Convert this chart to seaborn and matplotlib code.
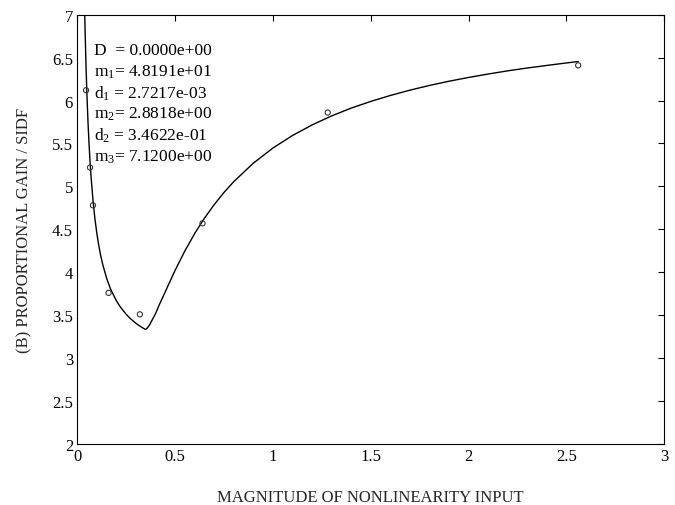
import matplotlib
matplotlib.use("Agg")
import matplotlib.pyplot as plt
import seaborn as sns
import pandas as pd

# Measured points (amplitude, gain)
meas_x = [0.045, 0.065, 0.08, 0.16, 0.32, 0.64, 1.28, 2.56]
meas_y = [6.12, 5.22, 4.78, 3.76, 3.51, 4.57, 5.86, 6.41]

# Fitted curve
curve_x = [0.030, 0.033, 0.036, 0.040, 0.045, 0.050, 0.055, 0.060, 0.065, 0.070,
           0.080, 0.090, 0.100, 0.110, 0.120, 0.130, 0.150, 0.170, 0.200, 0.220,
           0.250, 0.270, 0.300, 0.320, 0.346, 0.350, 0.355, 0.360, 0.370, 0.380,
           0.400, 0.420, 0.450, 0.470, 0.500, 0.550, 0.600, 0.650, 0.700, 0.750,
           0.800, 0.900, 1.000, 1.100, 1.200, 1.300, 1.400, 1.500, 1.600, 1.700,
           1.800, 1.900, 2.000, 2.100, 2.200, 2.300, 2.400, 2.500, 2.560]
curve_y = [8.115, 7.640, 7.243, 6.807, 6.371, 6.022, 5.737, 5.499, 5.297, 5.125,
           4.844, 4.626, 4.452, 4.309, 4.190, 4.090, 3.929, 3.805, 3.667, 3.596,
           3.510, 3.463, 3.405, 3.373, 3.336, 3.336, 3.344, 3.357, 3.389, 3.433,
           3.518, 3.626, 3.774, 3.874, 4.023, 4.249, 4.451, 4.630, 4.788, 4.930,
           5.056, 5.271, 5.447, 5.593, 5.716, 5.821, 5.912, 5.990, 6.059, 6.121,
           6.176, 6.225, 6.269, 6.309, 6.346, 6.379, 6.409, 6.438, 6.454]

param_lines = [r"D  = 0.0000e+00", r"m$_1$= 4.8191e+01", r"d$_1$ = 2.7217e-03",
               r"m$_2$= 2.8818e+00", r"d$_2$ = 3.4622e-01", r"m$_3$= 7.1200e+00"]

x_ticks = [0, 0.5, 1, 1.5, 2, 2.5, 3]
y_ticks = [2, 2.5, 3, 3.5, 4, 4.5, 5, 5.5, 6, 6.5, 7]
x_ticklabels = ["0", "0.5", "1", "1.5", "2", "2.5", "3"]
y_ticklabels = ["2", "2.5", "3", "3.5", "4", "4.5", "5", "5.5", "6", "6.5", "7"]

sns.set_theme(style="white")
plt.rcParams["font.family"] = ["Liberation Serif", "DejaVu Serif"]
plt.rcParams["mathtext.fontset"] = "custom"
plt.rcParams["mathtext.rm"] = "Liberation Serif"
plt.rcParams["mathtext.it"] = "Liberation Serif"

fig = plt.figure(figsize=(6.75, 5.06), dpi=100)
ax = fig.add_axes([0.1145, 0.1206, 0.8696, 0.8484])

curve_df = pd.DataFrame({"x": curve_x, "y": curve_y})
meas_df = pd.DataFrame({"x": meas_x, "y": meas_y})

sns.lineplot(data=curve_df, x="x", y="y", ax=ax, color="black", linewidth=1.0, sort=False)
sns.scatterplot(data=meas_df, x="x", y="y", ax=ax, marker="o", s=14,
                facecolor="none", edgecolor="#333333", linewidth=0.8, zorder=3)

ax.set_xlim(0, 3)
ax.set_ylim(2, 7)
ax.set_xticks(x_ticks)
ax.set_xticklabels(x_ticklabels)
ax.set_yticks(y_ticks)
ax.set_yticklabels(y_ticklabels)
ax.tick_params(direction="in", length=4.5, width=0.8, top=True, right=True,
               labelsize=12, colors="black", pad=3)
for sp in ax.spines.values():
    sp.set_color("black")
    sp.set_linewidth(0.8)

ax.set_xlabel("MAGNITUDE OF NONLINEARITY INPUT", fontsize=12, labelpad=18)
ax.set_ylabel("(B) PROPORTIONAL GAIN / SIDF", fontsize=12, labelpad=14)

for i, s in enumerate(param_lines):
    ax.text(0.087, 6.59 - i * 0.248, s, fontsize=12.5, ha="left", va="center", color="black")

fig.savefig("out.png", dpi=100)
